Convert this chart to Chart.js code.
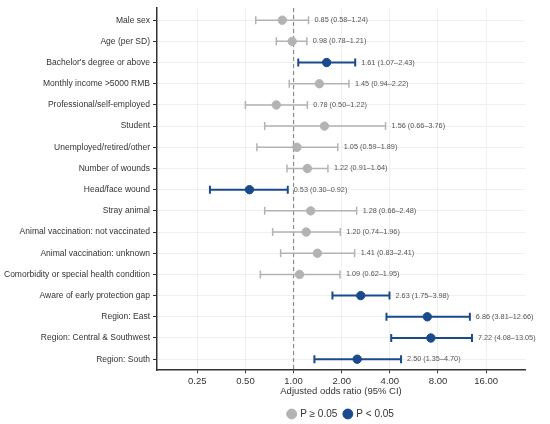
<!DOCTYPE html>
<html>
<head>
<meta charset="utf-8">
<script src="https://cdn.jsdelivr.net/npm/chart.js@4.4.0/dist/chart.umd.min.js"></script>
<style>
  html, body { margin: 0; padding: 0; background: #fff; }
  #wrap { width: 550px; height: 424px; }
</style>
</head>
<body>
<div id="wrap"><canvas id="forest"></canvas></div>
<script>
// forest plot data
const labels = [
  'Male sex', 'Age (per SD)', "Bachelor's degree or above", 'Monthly income >5000 RMB',
  'Professional/self-employed', 'Student', 'Unemployed/retired/other', 'Number of wounds',
  'Head/face wound', 'Stray animal', 'Animal vaccination: not vaccinated',
  'Animal vaccination: unknown', 'Comorbidity or special health condition',
  'Aware of early protection gap', 'Region: East', 'Region: Central & Southwest', 'Region: South'
];
const or = [0.85, 0.98, 1.61, 1.45, 0.78, 1.56, 1.05, 1.22, 0.53, 1.28, 1.20, 1.41, 1.09, 2.63, 6.86, 7.22, 2.50];
const lower = [0.58, 0.78, 1.07, 0.94, 0.50, 0.66, 0.59, 0.91, 0.30, 0.66, 0.74, 0.83, 0.62, 1.75, 3.81, 4.08, 1.35];
const upper = [1.24, 1.21, 2.43, 2.22, 1.22, 3.76, 1.89, 1.64, 0.92, 2.48, 1.96, 2.41, 1.95, 3.98, 12.66, 13.05, 4.70];
const significant = [false, false, true, false, false, false, false, false, true, false, false, false, false, true, true, true, true];
const xTicks = [0.25, 0.5, 1, 2, 4, 8, 16];

const GREY = '#b3b3b3';
const BLUE = '#1b4a8c';
const FONT = '"Liberation Sans", Arial, sans-serif';

const nsPoints = [], sigPoints = [];
or.forEach((v, i) => {
  (significant[i] ? sigPoints : nsPoints).push({x: v, y: i});
});

// whiskers, caps, reference line and value text
const whiskers = {
  id: 'whiskers',
  beforeDatasetsDraw(chart) {
    const {ctx, chartArea, scales: {x, y}} = chart;
    ctx.save();
    // reference line at OR = 1
    const x1 = x.getPixelForValue(1);
    ctx.strokeStyle = '#8c8c8c';
    ctx.lineWidth = 1.2;
    ctx.setLineDash([4, 3]);
    ctx.beginPath();
    ctx.moveTo(x1, chartArea.top);
    ctx.lineTo(x1, chartArea.bottom);
    ctx.stroke();
    ctx.setLineDash([]);

    for (let i = 0; i < or.length; i++) {
      const yp = y.getPixelForValue(i);
      const a = x.getPixelForValue(lower[i]);
      const b = x.getPixelForValue(upper[i]);
      ctx.strokeStyle = significant[i] ? BLUE : GREY;
      ctx.lineWidth = significant[i] ? 2 : 1.5;
      ctx.beginPath();
      ctx.moveTo(a, yp); ctx.lineTo(b, yp);
      ctx.moveTo(a, yp - 4); ctx.lineTo(a, yp + 4);
      ctx.moveTo(b, yp - 4); ctx.lineTo(b, yp + 4);
      ctx.stroke();

      ctx.fillStyle = '#555';
      ctx.font = '7.3px ' + FONT;
      ctx.textBaseline = 'middle';
      ctx.fillText(or[i].toFixed(2) + ' (' + lower[i].toFixed(2) + '\u2013' + upper[i].toFixed(2) + ')', b + 6, yp);
    }
    ctx.restore();
  }
};

new Chart(document.getElementById('forest'), {
  type: 'scatter',
  data: {
    datasets: [
      {label: 'P \u2265 0.05', data: nsPoints, backgroundColor: GREY, borderColor: GREY, pointRadius: 4.2, pointHoverRadius: 4.2},
      {label: 'P < 0.05', data: sigPoints, backgroundColor: BLUE, borderColor: BLUE, pointRadius: 4.2, pointHoverRadius: 4.2}
    ]
  },
  options: {
    responsive: true,
    maintainAspectRatio: false,
    animation: false,
    layout: {padding: {top: 8, right: 25, bottom: -5, left: 0}},
    plugins: {
      tooltip: {enabled: false},
      legend: {
        position: 'bottom',
        fullSize: false,
        labels: {
          usePointStyle: true, pointStyle: 'circle', boxWidth: 7, boxHeight: 7,
          padding: 7, color: '#333',
          font: {family: FONT, size: 10}
        }
      }
    },
    scales: {
      x: {
        type: 'logarithmic',
        min: 0.14,
        max: 28,
        afterBuildTicks(scale) { scale.ticks = xTicks.map(v => ({value: v})); },
        ticks: {
          color: '#333',
          padding: 2,
          font: {family: FONT, size: 9.5},
          callback: v => Number(v).toFixed(2)
        },
        grid: {color: '#efefef', tickColor: '#333', tickLength: 3},
        border: {color: '#333', width: 1.5},
        title: {
          display: true, text: 'Adjusted odds ratio (95% CI)', color: '#333',
          padding: {top: -3, bottom: 5},
          font: {family: FONT, size: 9.5}
        }
      },
      y: {
        type: 'linear',
        reverse: true,
        min: -0.57,
        max: 16.52,
        afterBuildTicks(scale) { scale.ticks = labels.map((_, i) => ({value: i})); },
        afterFit(scale) { scale.width = 157; },
        ticks: {
          color: '#333',
          padding: 3,
          font: {family: FONT, size: 8.5},
          callback: v => labels[v]
        },
        grid: {color: '#efefef', tickColor: '#333', tickLength: 4},
        border: {color: '#333', width: 1.5}
      }
    }
  },
  plugins: [whiskers]
});
</script>
</body>
</html>
